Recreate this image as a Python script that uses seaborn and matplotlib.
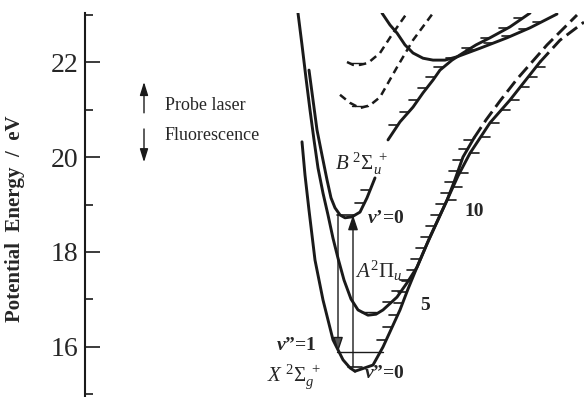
import numpy as np
import pandas as pd
import matplotlib
matplotlib.use("Agg")
import matplotlib.pyplot as plt
import seaborn as sns

# ---------------- data (internuclear distance in arb. units, energy in eV) ----------------
X_left_r = [302, 305, 309, 315, 323, 333, 343, 350, 355]
X_left_E = [20.32, 19.62, 18.88, 17.83, 16.99, 16.15, 15.73, 15.56, 15.49]
X_right_r = [355, 362, 373, 383, 390, 400, 408, 417, 427, 437, 447, 454, 463, 474]
X_right_E = [15.49, 15.54, 15.62, 16.00, 16.32, 16.78, 17.22, 17.68, 18.17, 18.63, 19.09,
             19.47, 20.00, 20.40]
X_dash_r = [474, 486, 500, 517, 547, 577]
X_dash_E = [20.40, 20.78, 21.18, 21.64, 22.36, 22.99]

A_r = [298, 302, 306, 310, 314, 318, 323, 328, 333, 338, 344, 351, 358, 368, 376, 383,
       397, 407, 417, 430, 447, 458, 470, 480, 490, 510, 525, 540]
A_E = [23.03, 22.36, 21.66, 20.99, 20.36, 19.77, 19.24, 18.78, 18.29, 17.87, 17.41, 17.01,
       16.78, 16.67, 16.69, 16.78, 17.05, 17.35, 17.68, 18.32, 19.09, 19.60, 20.08, 20.40,
       20.72, 21.20, 21.60, 22.00]
A_dash_r = [540, 560, 584]
A_dash_E = [22.00, 22.46, 22.84]

B_r = [309, 313, 317, 322, 327, 331, 335, 340, 345, 352, 360, 367, 375]
B_E = [21.83, 21.20, 20.57, 20.04, 19.52, 19.14, 18.93, 18.78, 18.72, 18.74, 18.84, 19.14, 19.56]
B2_r = [388, 400, 413, 423, 433, 440, 452, 463, 476, 490, 510, 530]
B2_E = [20.36, 20.74, 21.05, 21.35, 21.62, 21.83, 22.04, 22.19, 22.36, 22.51, 22.74, 23.03]

C_r = [382, 390, 397, 405, 413, 423, 433, 445, 457, 480, 507, 530, 557]
C_E = [23.03, 22.78, 22.61, 22.36, 22.19, 22.08, 22.04, 22.04, 22.11, 22.29, 22.51, 22.72, 23.01]

D1_r = [347, 353, 360, 368, 380, 393, 407]
D1_E = [22.00, 21.94, 21.94, 21.98, 22.19, 22.61, 23.03]
D2_r = [340, 350, 360, 370, 380, 397, 413, 433]
D2_E = [21.31, 21.14, 21.03, 21.09, 21.26, 21.89, 22.46, 23.03]

# vibrational level marks (eV)
X_ticks_E = [16.15, 16.42, 16.67, 16.93, 17.16, 17.39, 17.62, 17.85, 18.08, 18.32, 18.55,
             18.78, 19.01, 19.24, 19.47, 19.71, 19.94, 20.17, 20.35]
A_ticks_low_E = [16.95, 17.18, 17.41]
A_ticks_up_E = [19.09, 19.37, 19.66, 20.08, 20.42, 20.72, 20.99, 21.20, 21.47, 21.68, 21.89]
B_ticks_E = [19.03, 19.31, 20.67, 20.95, 21.20, 21.45, 21.68, 21.89, 22.08, 22.29, 22.51,
             22.72, 22.93]
C_ticks_E = [22.25, 22.40, 22.55, 22.70, 22.85]

E_B_v0, E_X_v0, E_X_v1, E_A_v0 = 18.78, 15.58, 15.89, 16.74

y_major = [16, 18, 20, 22]
y_minor = [15, 17, 19, 21, 23]

# ---------------- style ----------------
sns.set_theme(style="white")
plt.rcParams['font.family'] = ['Liberation Serif', 'DejaVu Serif']
plt.rcParams['mathtext.fontset'] = 'custom'
plt.rcParams['mathtext.rm'] = 'Liberation Serif'
plt.rcParams['mathtext.it'] = 'Liberation Serif:italic'
plt.rcParams['mathtext.bf'] = 'Liberation Serif:bold'
plt.rcParams['mathtext.bfit'] = 'Liberation Serif:bold:italic'

fig = plt.figure(figsize=(5.84, 3.97), dpi=100)
ax = fig.add_axes([85 / 584, 0, 499 / 584, 384 / 397])
ax.set_xlim(85, 584)
ax.set_ylim(14.947, 23.032)

LW = 2.1
def curve(r, E, dashed=None, lw=LW):
    kw = dict(color='k', lw=lw, sort=False, estimator=None, ax=ax, legend=False)
    if dashed is not None:
        kw['linestyle'] = (0, dashed)
    sns.lineplot(x=r, y=E, **kw)

curve(X_left_r, X_left_E)
curve(X_right_r, X_right_E)
curve(X_dash_r, X_dash_E, dashed=(4.5, 2))
curve(A_r, A_E)
curve(A_dash_r, A_dash_E, dashed=(4.5, 2))
curve(B_r, B_E)
curve(B2_r, B2_E)
curve(C_r, C_E)
curve(D1_r, D1_E, dashed=(3, 2), lw=1.8)
curve(D2_r, D2_E, dashed=(3, 2), lw=1.8)

TL = 9
def marks(E_list, r_branch, E_branch, side):
    rs = np.interp(E_list, E_branch, r_branch)
    for e, r in zip(E_list, rs):
        ax.plot([r, r + side * TL], [e, e], color='k', lw=1.2)

marks(X_ticks_E, X_right_r, X_right_E, -1)
A_right_r = A_r[13:]
A_right_E = A_E[13:]
marks(A_ticks_low_E, A_right_r, A_right_E, -1)
marks(A_ticks_up_E, A_right_r, A_right_E, +1)
marks(B_ticks_E, B_r[8:] + B2_r, B_E[8:] + B2_E, -1)
marks(C_ticks_E, C_r[7:], C_E[7:], -1)

# level lines
ax.plot([337, 354], [E_B_v0, E_B_v0], color='k', lw=1.2)
ax.plot([348, 362], [E_X_v0, E_X_v0], color='k', lw=1.2)
ax.plot([337, 383], [E_X_v1, E_X_v1], color='k', lw=1.0)
ax.plot([361, 376], [E_A_v0, E_A_v0], color='k', lw=1.0)
ax.plot([350, 362], [21.98, 21.98], color='k', lw=1.0)
ax.plot([352, 368], [21.08, 21.08], color='k', lw=1.0)

# transition arrows
ax.annotate('', xy=(353, E_B_v0), xytext=(353, E_X_v0),
            arrowprops=dict(arrowstyle='-|>,head_length=0.9,head_width=0.3', lw=1.0,
                            color='k', mutation_scale=10, shrinkA=0, shrinkB=0))
ax.annotate('', xy=(338, E_X_v1), xytext=(338, E_B_v0),
            arrowprops=dict(arrowstyle='-|>,head_length=0.9,head_width=0.3', lw=1.0,
                            ec='k', fc='#555555', mutation_scale=10, shrinkA=0, shrinkB=0))

# legend arrows
ax.annotate('', xy=(144, 21.58), xytext=(144, 20.93),
            arrowprops=dict(arrowstyle='-|>,head_length=0.8,head_width=0.25', lw=1.0,
                            color='k', mutation_scale=10, shrinkA=0, shrinkB=0))
ax.annotate('', xy=(144, 19.89), xytext=(144, 20.59),
            arrowprops=dict(arrowstyle='-|>,head_length=0.8,head_width=0.25', lw=1.0,
                            color='k', mutation_scale=10, shrinkA=0, shrinkB=0))
ax.text(165, 21.09, 'Probe laser', fontsize=13, va='center', ha='left')
ax.text(165, 20.46, 'Fluorescence', fontsize=13, va='center', ha='left')

# labels
ax.text(335, 19.73, r'$B\ ^{2}\Sigma_{u}^{\ +}$', fontsize=15, va='baseline', ha='left')
ax.text(367, 18.70, r'$\mathbfit{v}$’=0', fontsize=14, fontweight='bold', va='center', ha='left')
ax.text(355, 17.60, r'$A^{2}\Pi_{u}$', fontsize=15, va='center', ha='left')
ax.text(425, 16.88, '5', fontsize=14, fontweight='bold', va='center', ha='center')
ax.text(474, 18.86, '10', fontsize=14, fontweight='bold', va='center', ha='center')
ax.text(276, 16.04, r'$\mathbfit{v}$”=1', fontsize=14, fontweight='bold', va='center', ha='left')
ax.text(267, 15.37, r'$X\ ^{2}\Sigma_{g}^{\ +}$', fontsize=15, va='center', ha='left')
ax.text(364, 15.45, r'$\mathbfit{v}$”=0', fontsize=14, fontweight='bold', va='center', ha='left')

# axis styling
for s in ['top', 'right', 'bottom']:
    ax.spines[s].set_visible(False)
ax.spines['left'].set_linewidth(1.5)
ax.spines['left'].set_color('k')
ax.set_xticks([])
ax.set_yticks(y_major)
ax.set_yticks(y_minor, minor=True)
ax.set_yticklabels([str(v) for v in y_major])
ax.tick_params(axis='y', which='major', direction='in', length=11, width=1.2,
               labelsize=20, pad=5, left=True, color='k')
ax.tick_params(axis='y', which='minor', direction='in', length=5.5, width=1.2,
               left=True, color='k')
ax.set_xlabel('')
ax.set_ylabel('')
ax.patch.set_alpha(0)
fig.text(15 / 584, 1 - 219 / 397, 'Potential  Energy  /  eV', rotation=90, fontsize=15,
         fontweight='bold', ha='center', va='center')

fig.savefig('out.png', dpi=100, facecolor='white')
